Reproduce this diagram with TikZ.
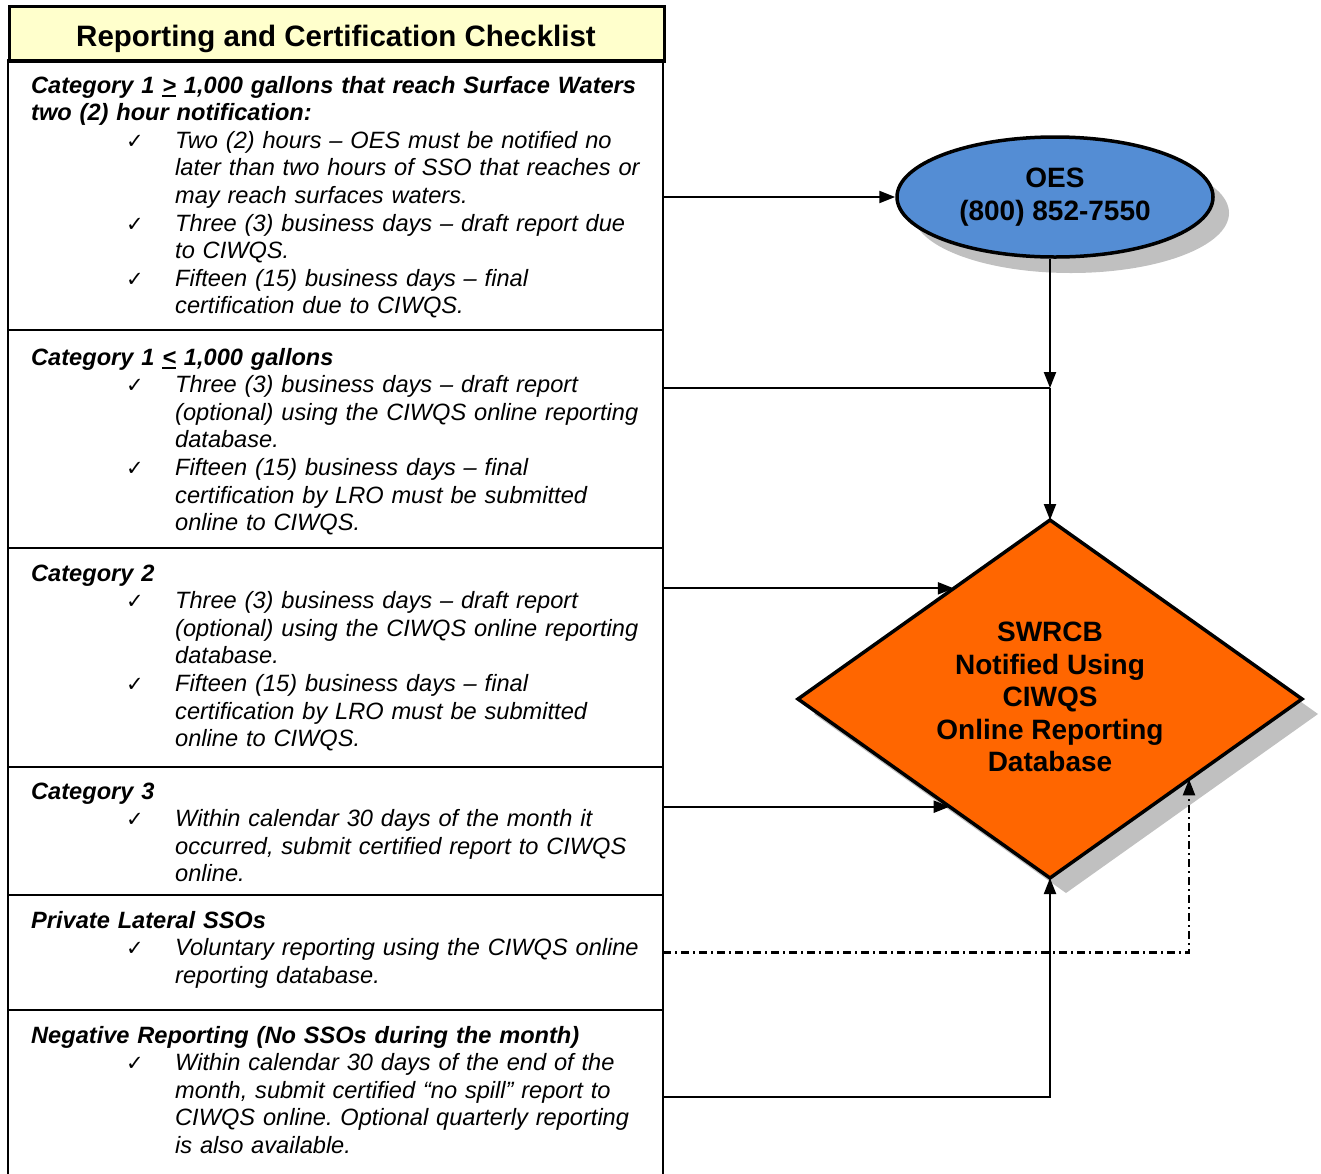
\documentclass[tikz,border=0pt]{standalone}
\usepackage{fontspec}
\setmainfont{Liberation Sans}
\newfontfamily\symfont{DejaVu Sans}
\usetikzlibrary{shapes.geometric,arrows.meta,shadows}
\definecolor{hdrfill}{HTML}{FFFFCC}
\definecolor{oesblue}{HTML}{548DD4}
\definecolor{swrcborange}{HTML}{FF6600}
\definecolor{shadowgrey}{HTML}{C0C0C0}
\frenchspacing
\newcommand\ulsym[1]{\setbox0\hbox{#1}\rlap{\rule[-4pt]{\wd0}{1.8pt}}\box0\relax}
\newcommand\rowhead[1]{{\bfseries\itshape #1\par}}
\newcommand\chkitem[1]{{\hangindent=144pt\hangafter=0\noindent\llap{\makebox[49pt][l]{\fontsize{21}{22}\symfont ✓}}\itshape #1\par}}
\begin{document}
\begin{tikzpicture}[x=1pt,y=-1pt,
  rowbox/.style={draw,line width=2pt,minimum width=655pt,anchor=north west,inner sep=0pt,outer sep=0pt},
  rowtext/.style={anchor=base west,inner sep=0pt,text width=640pt,align=left,font=\fontsize{23.6}{27.6}\selectfont\frenchspacing},
  conn/.style={line width=2.2pt,-{Triangle[length=16pt,width=12pt]}},
  plainconn/.style={line width=2.2pt},
  dashdotconn/.style={line width=2.2pt,dash pattern=on 8pt off 4pt on 2pt off 4pt,-{Triangle[length=16pt,width=12pt]}}]
\useasboundingbox (0,0) rectangle (1321,1173);

% header
\node[draw,line width=3pt,fill=hdrfill,anchor=north west,minimum width=655pt,minimum height=55pt,inner sep=0pt] (hdr) at (8,5) {};
\node[anchor=base,inner sep=0pt,font=\fontsize{29.5}{33}\selectfont\bfseries] (title) at (336,46) {Reporting and Certification Checklist};

% rows
\node[rowbox,minimum height=270pt] (r1) at (8,60) {};
\node[rowbox,minimum height=218pt] (r2) at (8,330) {};
\node[rowbox,minimum height=219pt] (r3) at (8,548) {};
\node[rowbox,minimum height=128pt] (r4) at (8,767) {};
\node[rowbox,minimum height=115pt] (r5) at (8,895) {};
\node[rowbox,minimum height=174pt] (r6) at (8,1010) {};

\node[rowtext] (t1) at (31,93) {\rowhead{Category 1 \ulsym{>} 1,000 gallons that reach Surface Waters\newline two (2) hour notification:}%
\chkitem{Two (2) hours -- OES must be notified no\newline later than two hours of SSO that reaches or\newline may reach surfaces waters.}%
\chkitem{Three (3) business days -- draft report due\newline to CIWQS.}%
\chkitem{Fifteen (15) business days -- final\newline certification due to CIWQS.}};

\node[rowtext] (t2) at (31,365) {\rowhead{Category 1 \ulsym{<} 1,000 gallons}%
\chkitem{Three (3) business days -- draft report\newline (optional) using the CIWQS online reporting\newline database.}%
\chkitem{Fifteen (15) business days -- final\newline certification by LRO must be submitted\newline online to CIWQS.}};

\node[rowtext] (t3) at (31,581) {\rowhead{Category 2}%
\chkitem{Three (3) business days -- draft report\newline (optional) using the CIWQS online reporting\newline database.}%
\chkitem{Fifteen (15) business days -- final\newline certification by LRO must be submitted\newline online to CIWQS.}};

\node[rowtext] (t4) at (31,799) {\rowhead{Category 3}%
\chkitem{Within calendar 30 days of the month it\newline occurred, submit certified report to CIWQS\newline online.}};

\node[rowtext] (t5) at (31,928) {\rowhead{Private Lateral SSOs}%
\chkitem{Voluntary reporting using the CIWQS online\newline reporting database.}};

\node[rowtext] (t6) at (31,1043) {\rowhead{Negative Reporting (No SSOs during the month)}%
\chkitem{Within calendar 30 days of the end of the\newline month, submit certified “no spill” report to\newline CIWQS online. Optional quarterly reporting\newline is also available.}};

% OES ellipse
\node[ellipse,draw,line width=3.5pt,fill=oesblue,minimum width=316pt,minimum height=120pt,inner sep=0pt,
  drop shadow={shadow xshift=16pt,shadow yshift=-16pt,fill=shadowgrey,opacity=1},
  align=center,font=\fontsize{28}{33}\selectfont\bfseries] (oes) at (1055,197) {OES\\(800) 852-7550};

% SWRCB diamond
\node[diamond,draw,line width=3.5pt,fill=swrcborange,minimum width=504pt,minimum height=358pt,inner sep=0pt,outer sep=0pt,
  drop shadow={shadow xshift=16pt,shadow yshift=-15pt,fill=shadowgrey,opacity=1}] (dia) at (1050,699) {};
\node[align=center,inner sep=0pt,font=\fontsize{28}{32.5}\selectfont\bfseries] (diatext) at (1050,697) {SWRCB\\Notified Using\\CIWQS\\Online Reporting\\Database};

% junction
\coordinate (j2) at (1050,388);

% connectors
\draw[conn] (oes.west -| r1.east) -- (oes.west);
\draw[conn] (j2 |- oes.south) -- (j2);
\draw[plainconn] (j2 -| r2.east) -- (j2);
\draw[conn] (j2) -- (dia.north);
\draw[conn] (dia.131 -| r3.east) -- (dia.131);
\draw[conn] (dia.227 -| r4.east) -- (dia.227);
\draw[dashdotconn] (r5.east) -| (dia.330);
\draw[conn] (r6.east) -| (dia.south);
\end{tikzpicture}
\end{document}
